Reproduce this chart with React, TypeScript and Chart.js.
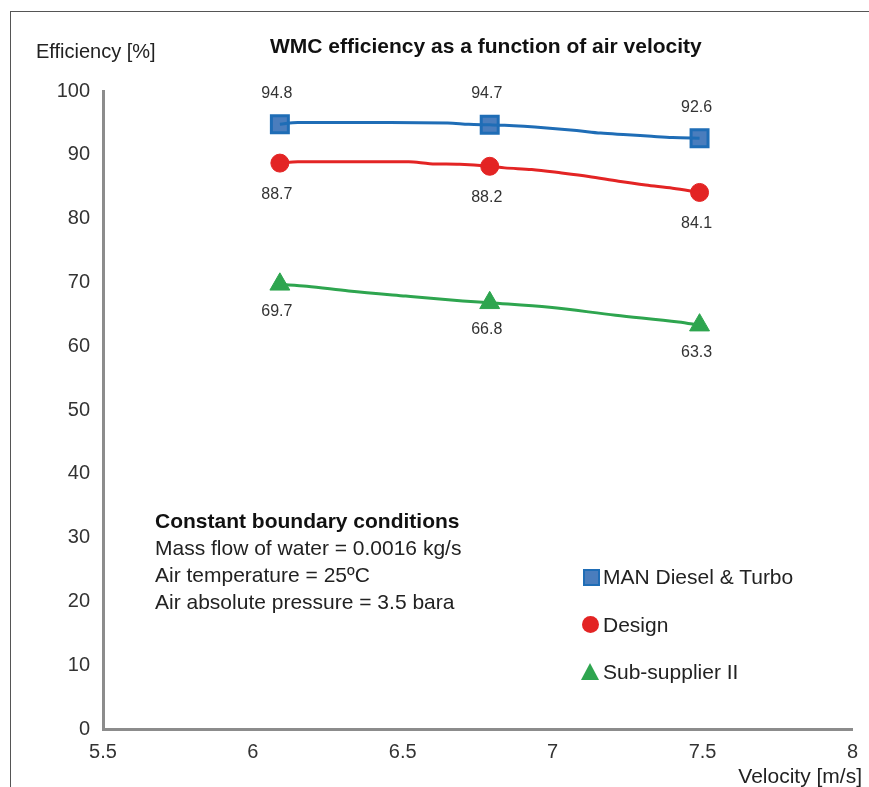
import React, { useEffect, useRef } from "react";
import { Chart, registerables } from "chart.js";

Chart.register(...registerables);

// Marker (data) points
const markerVelocity = [6.09, 6.79, 7.49];
const manValues = [94.8, 94.7, 92.6];
const designValues = [88.7, 88.2, 84.1];
const subValues = [69.7, 66.8, 63.3];

// Curve points
const manCurveX = [6.09, 6.15, 6.42, 6.65, 6.72, 6.79, 6.84, 6.98, 7.08, 7.16, 7.25, 7.33, 7.4, 7.49];
const manCurveY = [94.8, 95.05, 95.05, 95.0, 94.78, 94.7, 94.62, 94.2, 93.8, 93.4, 93.15, 92.9, 92.7, 92.6];
const designCurveX = [6.09, 6.15, 6.52, 6.59, 6.69, 6.79, 6.84, 6.93, 7.03, 7.12, 7.22, 7.31, 7.4, 7.49];
const designCurveY = [88.7, 88.9, 88.9, 88.6, 88.5, 88.2, 87.95, 87.7, 87.15, 86.6, 85.85, 85.25, 84.75, 84.1];
const subCurveX = [6.09, 6.18, 6.32, 6.51, 6.7, 6.79, 6.99, 7.21, 7.42, 7.49];
const subCurveY = [69.7, 69.4, 68.65, 67.85, 67.1, 66.8, 66.1, 64.85, 63.8, 63.3];

const xTickValues = [5.5, 6, 6.5, 7, 7.5, 8];
const yTickValues = [0, 10, 20, 30, 40, 50, 60, 70, 80, 90, 100];

const seriesNames = ["MAN Diesel & Turbo", "Design", "Sub-supplier II"];
const conditionLines = [
  "Mass flow of water = 0.0016 kg/s",
  "Air temperature = 25ºC",
  "Air absolute pressure = 3.5 bara",
];

const BLUE = "#1f6db6";
const BLUE_FILL = "#4a7dbd";
const RED = "#e32424";
const GREEN = "#2ea54f";
const FONT = "'Liberation Sans', Arial, sans-serif";

const pts = (xs: number[], ys: number[]) => xs.map((x, i) => ({ x, y: ys[i] }));

export default function App() {
  const ref = useRef<HTMLCanvasElement | null>(null);

  useEffect(() => {
    if (!ref.current) return;
    const labelPlugin = {
      id: "valueLabels",
      afterDatasetsDraw(chart: any) {
        const ctx = chart.ctx;
        ctx.save();
        ctx.font = `16px ${FONT}`;
        ctx.fillStyle = "#333";
        ctx.textAlign = "center";
        ctx.textBaseline = "middle";
        chart.data.datasets.forEach((ds: any, i: number) => {
          if (ds.labelDy === undefined) return;
          const meta = chart.getDatasetMeta(i);
          meta.data.forEach((p: any, j: number) => {
            ctx.fillText(String(ds.data[j].y), p.x - 3, p.y + ds.labelDy);
          });
        });
        ctx.restore();
      },
    };

    const chart = new Chart(ref.current, {
      type: "scatter",
      data: {
        datasets: [
          { data: pts(manCurveX, manCurveY), showLine: true, borderColor: BLUE, borderWidth: 3, pointRadius: 0, cubicInterpolationMode: "monotone" } as any,
          { data: pts(designCurveX, designCurveY), showLine: true, borderColor: RED, borderWidth: 3, pointRadius: 0, cubicInterpolationMode: "monotone" } as any,
          { data: pts(subCurveX, subCurveY), showLine: true, borderColor: GREEN, borderWidth: 3, pointRadius: 0, cubicInterpolationMode: "monotone" } as any,
          { data: pts(markerVelocity, manValues), showLine: false, pointStyle: "rect", pointRadius: 12, backgroundColor: BLUE_FILL, borderColor: BLUE, borderWidth: 3, labelDy: -31 } as any,
          { data: pts(markerVelocity, designValues), showLine: false, pointStyle: "circle", pointRadius: 9, backgroundColor: RED, borderColor: RED, borderWidth: 1, labelDy: 31 } as any,
          { data: pts(markerVelocity, subValues), showLine: false, pointStyle: "triangle", pointRadius: 11.5, backgroundColor: GREEN, borderColor: GREEN, borderWidth: 1, labelDy: 27 } as any,
        ],
      },
      options: {
        animation: false,
        responsive: false,
        maintainAspectRatio: false,
        layout: { padding: { left: 0, top: 91, right: 16, bottom: 0 } },
        plugins: { legend: { display: false }, tooltip: { enabled: false }, title: { display: false } },
        scales: {
          x: {
            type: "linear",
            min: 5.5,
            max: 8,
            afterFit: (s: any) => { s.height = 58; },
            afterBuildTicks: (s: any) => { s.ticks = xTickValues.map((v) => ({ value: v })); },
            grid: { display: false, drawTicks: false },
            border: { color: "#8c8c8c", width: 3 },
            ticks: { padding: 11, color: "#333", font: { family: FONT, size: 20 }, callback: (v: any) => String(v) },
          },
          y: {
            type: "linear",
            min: 0,
            max: 100,
            afterFit: (s: any) => { s.width = 103; },
            afterBuildTicks: (s: any) => { s.ticks = yTickValues.map((v) => ({ value: v })); },
            grid: { display: false, drawTicks: false },
            border: { color: "#8c8c8c", width: 3 },
            ticks: { padding: 13, color: "#333", font: { family: FONT, size: 20 }, callback: (v: any) => String(v) },
          },
        },
      },
      plugins: [labelPlugin],
    });
    return () => chart.destroy();
  }, []);

  const textStyle: React.CSSProperties = { position: "absolute", fontFamily: FONT, color: "#222", whiteSpace: "nowrap", lineHeight: 1 };

  return (
    <div style={{ position: "fixed", left: 0, top: 0, width: 869, height: 787, background: "#fff", overflow: "hidden" }}>
      <div style={{ position: "absolute", left: 10, top: 11, width: 900, height: 800, borderTop: "1px solid #555", borderLeft: "1px solid #555" }} />
      <canvas ref={ref} width={869} height={787} style={{ position: "absolute", left: 0, top: 0 }} />
      <div style={{ ...textStyle, left: 36, top: 41, fontSize: 20 }}>Efficiency [%]</div>
      <div style={{ ...textStyle, left: 270, top: 35, fontSize: 21, fontWeight: "bold", color: "#111" }}>WMC efficiency as a function of air velocity</div>
      <div style={{ ...textStyle, right: 7, top: 765, fontSize: 21 }}>Velocity [m/s]</div>
      <div style={{ ...textStyle, left: 155, top: 510, fontSize: 21, fontWeight: "bold", color: "#111" }}>Constant boundary conditions</div>
      {conditionLines.map((t, i) => (
        <div key={i} style={{ ...textStyle, left: 155, top: 537 + i * 27, fontSize: 21 }}>{t}</div>
      ))}
      {seriesNames.map((t, i) => (
        <div key={t} style={{ ...textStyle, left: 603, top: 566 + i * 47.5, fontSize: 21 }}>{t}</div>
      ))}
      <div style={{ position: "absolute", left: 583, top: 569, width: 13, height: 13, background: BLUE_FILL, border: `2px solid ${BLUE}` }} />
      <div style={{ position: "absolute", left: 582, top: 616, width: 17, height: 17, borderRadius: "50%", background: RED }} />
      <div style={{ position: "absolute", left: 581, top: 663, width: 0, height: 0, borderLeft: "9px solid transparent", borderRight: "9px solid transparent", borderBottom: `17px solid ${GREEN}` }} />
    </div>
  );
}
